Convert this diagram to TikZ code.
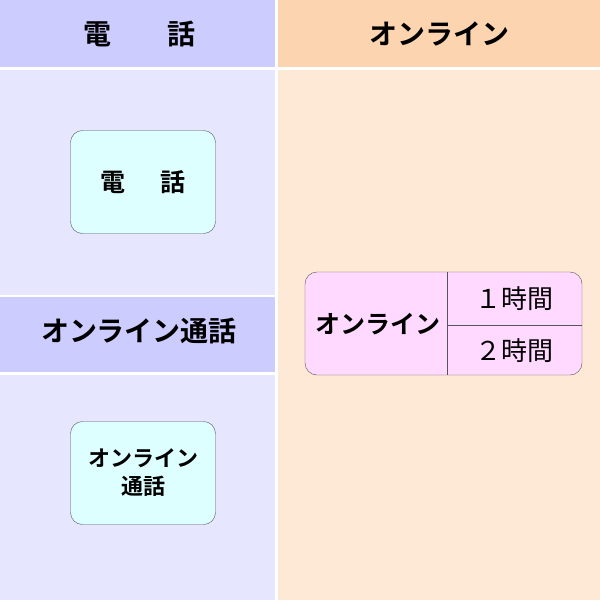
\documentclass[tikz,border=0pt]{standalone}
\usepackage{fontspec}
\newfontfamily\jp{Noto Sans CJK JP}
\newfontfamily\jpb{Noto Sans CJK JP Bold}
\definecolor{lhead}{HTML}{CCCCFF}
\definecolor{lbody}{HTML}{E6E6FF}
\definecolor{rhead}{HTML}{FCD5B0}
\definecolor{rbody}{HTML}{FDE9D5}
\definecolor{cyanbox}{HTML}{DDFFFF}
\definecolor{pinkbox}{HTML}{FFD9FF}
\definecolor{edge}{HTML}{555555}
\tikzset{
  cbox/.style={draw=edge,fill=cyanbox,rounded corners=12pt,minimum width=145pt,minimum height=103pt,font=\jpb\fontsize{22}{28}\selectfont,align=center},
  htext/.style={font=\jpb\fontsize{28}{32}\selectfont},
  ttext/.style={font=\jp\fontsize{26}{30}\selectfont},
}
\begin{document}
\begin{tikzpicture}[x=1pt,y=-1pt]
\useasboundingbox (0,0) rectangle (600,600);
\fill[white] (0,0) rectangle (600,600);
\fill[lhead] (0,0) rectangle (275,67);
\fill[rhead] (278,0) rectangle (600,67);
\fill[lbody] (0,70) rectangle (275,295);
\fill[lhead] (0,297) rectangle (275,372);
\fill[lbody] (0,375) rectangle (275,600);
\fill[rbody] (278,70) rectangle (600,600);
\node[htext] (h1) at (139,34) {電\hspace{2em}話};
\node[htext] (h2) at (439,34) {オンライン};
\node[htext] (h3) at (139,331) {オンライン通話};
\node[cbox,font=\jpb\fontsize{25}{28}\selectfont] (b1) at (143,182) {電\hspace{1.4em}話};
\node[cbox] (b2) at (143,473) {オンライン\\通話};
\draw[edge,fill=pinkbox,rounded corners=12pt] (305,272) rectangle (582,375);
\node[font=\jpb\fontsize{25}{28}\selectfont] (o) at (378,324) {オンライン};
\draw[edge] (447,272) -- (447,375);
\draw[edge] (447,325) -- (582,325);
\node[ttext] (t1) at (514,299) {１時間};
\node[ttext] (t2) at (514,351) {２時間};
\end{tikzpicture}
\end{document}
